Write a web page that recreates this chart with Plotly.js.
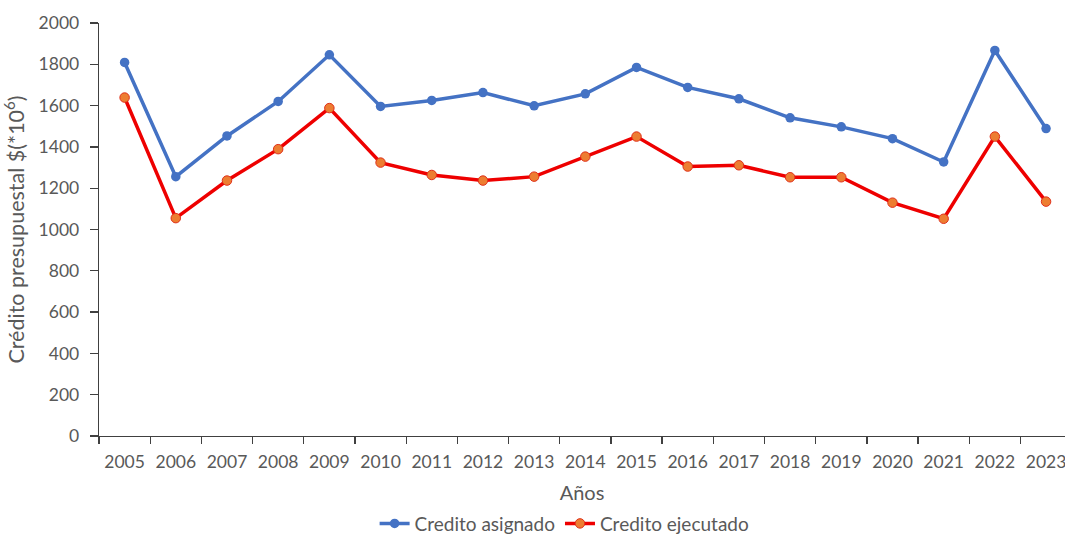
<!DOCTYPE html>
<html>
<head>
<meta charset="utf-8">
<script src="https://cdn.plot.ly/plotly-3.0.1.min.js"></script>
<style>html,body{margin:0;padding:0;background:#fff;overflow:hidden;}#chart{width:1065px;height:548px;}</style>
</head>
<body>
<div id="chart"></div>
<script>
var years = ['2005','2006','2007','2008','2009','2010','2011','2012','2013','2014','2015','2016','2017','2018','2019','2020','2021','2022','2023'];
var creditoAsignado = [1809,1256,1453,1620,1846,1596,1625,1663,1599,1657,1785,1688,1633,1541,1497,1440,1327,1867,1489];
var creditoEjecutado = [1639,1055,1237,1389,1588,1324,1264,1237,1256,1353,1450,1305,1311,1253,1253,1130,1052,1450,1135];
var yTicks = [0,200,400,600,800,1000,1200,1400,1600,1800,2000];

var font = 'Lato, "Open Sans", sans-serif';
var gray = '#595959';

var traces = [
  {x: years, y: creditoAsignado, name: 'Credito asignado', type: 'scatter', mode: 'lines+markers',
   line: {color: '#4472C4', width: 3.5}, marker: {color: '#4472C4', size: 9.5}},
  {x: years, y: creditoEjecutado, name: 'Credito ejecutado', type: 'scatter', mode: 'lines+markers',
   line: {color: '#EE0000', width: 3.5}, marker: {color: '#ED7D31', size: 9.5, line: {color: '#E0301A', width: 1}}}
];

var layout = {
  width: 1065, height: 548,
  margin: {l: 99, r: 0, t: 23, b: 112, pad: 0},
  paper_bgcolor: '#fff', plot_bgcolor: '#fff',
  font: {family: font, color: gray, size: 17},
  showlegend: true,
  legend: {orientation: 'h', x: 0.482, xanchor: 'center', y: -0.212, yanchor: 'middle',
           font: {size: 19, color: gray}, itemwidth: 30, tracegroupgap: 0},
  xaxis: {
    type: 'category', range: [-0.5, 18.37], tickson: 'boundaries',
    showline: true, linecolor: '#404040', linewidth: 1.3,
    ticks: 'outside', ticklen: 7, tickcolor: '#404040', tickwidth: 1.3,
    showgrid: false, zeroline: false, fixedrange: true,
    tickfont: {size: 17.5, color: gray}, ticklabelstandoff: 10,
    title: {text: 'Años', font: {size: 20, color: gray}, standoff: 14}
  },
  yaxis: {
    range: [0, 2000], tickvals: yTicks, ticktext: yTicks.map(String),
    showline: true, linecolor: '#404040', linewidth: 1.3,
    ticks: 'outside', ticklen: 8, tickcolor: '#404040', tickwidth: 1.3,
    showgrid: false, zeroline: false, fixedrange: true,
    tickfont: {size: 17.5, color: gray}, ticklabelstandoff: 7,
    title: {text: 'Crédito presupuestal $(*10<sup>6</sup>)', font: {size: 21.5, color: gray}, standoff: 14}
  }
};

Plotly.newPlot('chart', traces, layout, {displayModeBar: false, staticPlot: true});
</script>
</body>
</html>
